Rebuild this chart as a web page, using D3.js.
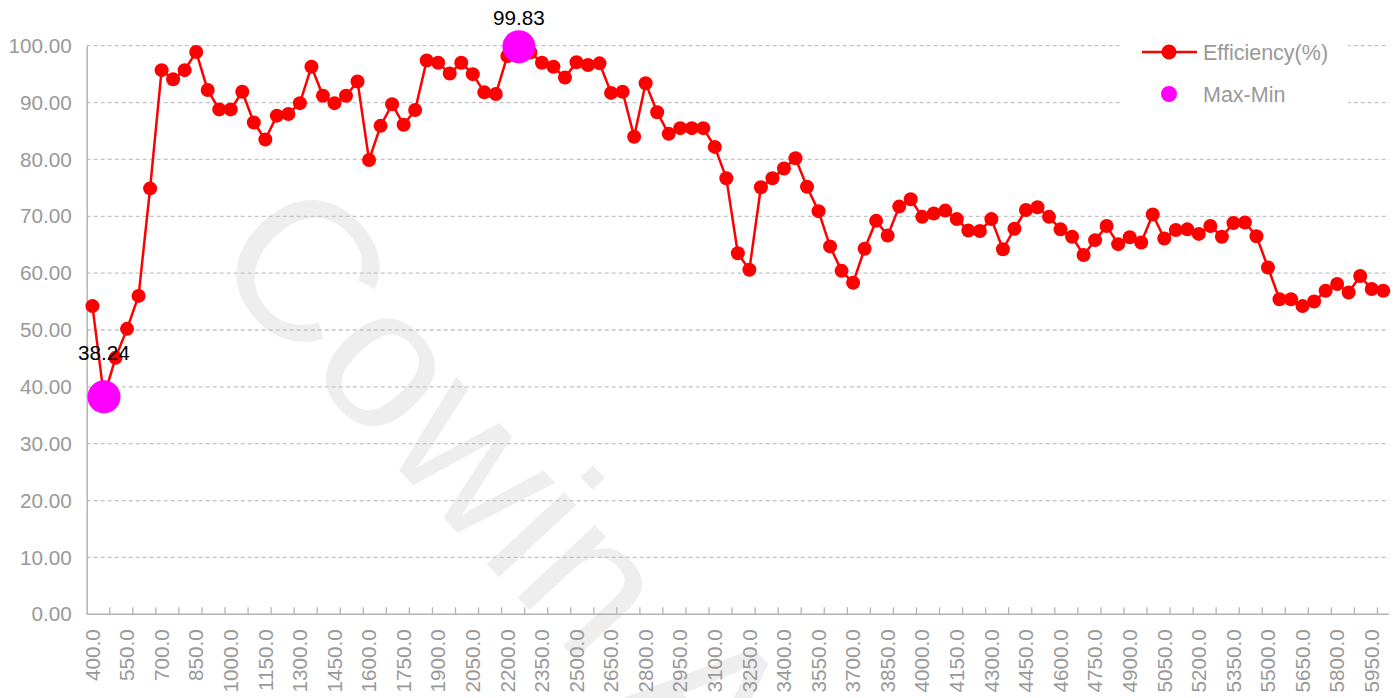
<!DOCTYPE html>
<html>
<head>
<meta charset="utf-8">
<script src="https://cdn.jsdelivr.net/npm/d3@7"></script>
<style>
  body { margin: 0; background: #fff; }
  text { font-family: Arial, 'Liberation Sans', sans-serif; }
</style>
</head>
<body>
<svg id="chart"></svg>
<script>
// x categories (rpm)
const categories = [
    400, 450, 500, 550, 600, 650, 700, 750, 800, 850,
    900, 950, 1000, 1050, 1100, 1150, 1200, 1250, 1300, 1350,
    1400, 1450, 1500, 1550, 1600, 1650, 1700, 1750, 1800, 1850,
    1900, 1950, 2000, 2050, 2100, 2150, 2200, 2250, 2300, 2350,
    2400, 2450, 2500, 2550, 2600, 2650, 2700, 2750, 2800, 2850,
    2900, 2950, 3000, 3050, 3100, 3150, 3200, 3250, 3300, 3350,
    3400, 3450, 3500, 3550, 3600, 3650, 3700, 3750, 3800, 3850,
    3900, 3950, 4000, 4050, 4100, 4150, 4200, 4250, 4300, 4350,
    4400, 4450, 4500, 4550, 4600, 4650, 4700, 4750, 4800, 4850,
    4900, 4950, 5000, 5050, 5100, 5150, 5200, 5250, 5300, 5350,
    5400, 5450, 5500, 5550, 5600, 5650, 5700, 5750, 5800, 5850,
    5900, 5950, 6000
];

// Efficiency(%) per category
const efficiency = [
    54.2, 38.24, 45.1, 50.2, 56.0, 74.9, 95.7, 94.1, 95.7, 98.9,
    92.2, 88.8, 88.8, 91.9, 86.5, 83.5, 87.7, 88.0, 89.9, 96.3,
    91.2, 89.9, 91.2, 93.7, 79.9, 85.9, 89.7, 86.1, 88.7, 97.4,
    97.0, 95.1, 97.0, 95.0, 91.8, 91.5, 98.2, 99.83, 98.8, 97.0,
    96.3, 94.4, 97.1, 96.6, 96.9, 91.7, 91.9, 84.0, 93.4, 88.3,
    84.5, 85.5, 85.5, 85.5, 82.2, 76.7, 63.5, 60.6, 75.1, 76.7,
    78.4, 80.2, 75.2, 70.9, 64.7, 60.4, 58.3, 64.3, 69.2, 66.6,
    71.7, 73.0, 69.9, 70.5, 71.0, 69.5, 67.5, 67.4, 69.5, 64.2,
    67.8, 71.1, 71.6, 69.9, 67.7, 66.4, 63.2, 65.8, 68.3, 65.1,
    66.3, 65.4, 70.3, 66.1, 67.6, 67.7, 66.9, 68.3, 66.4, 68.8,
    68.9, 66.5, 61.0, 55.4, 55.4, 54.2, 55.0, 56.9, 58.1, 56.6,
    59.5, 57.2, 56.9
];

const yTicks = [0, 10, 20, 30, 40, 50, 60, 70, 80, 90, 100];
const seriesNames = ['Efficiency(%)', 'Max-Min'];
const watermark = 'Cowin Auto';

const width = 1399, height = 698;
const margin = { top: 45.7, right: 10, bottom: 83.7, left: 86.7 };
const lineColor = '#ff0000', markColor = '#ff00ff', axisColor = '#b4b4b4', labelColor = '#999999';
const fontSize = 20.7;

const data = categories.map((c, i) => ({ cat: c, val: efficiency[i] }));

const svg = d3.select('#chart')
    .attr('width', width)
    .attr('height', height);

const x = d3.scaleBand()
    .domain(categories)
    .range([margin.left, width - margin.right])
    .padding(0);

const y = d3.scaleLinear()
    .domain([0, 100])
    .range([height - margin.bottom, margin.top]);

// watermark behind everything
svg.append('text')
    .attr('transform', 'translate(205,262) rotate(47)')
    .attr('font-size', 200)
    .attr('fill', '#eeeeee')
    .text(watermark);

// horizontal dashed grid
svg.append('g')
    .selectAll('line')
    .data(yTicks.filter(d => d > 0))
    .join('line')
    .attr('x1', x.range()[0])
    .attr('x2', x.range()[1])
    .attr('y1', d => y(d))
    .attr('y2', d => y(d))
    .attr('stroke', '#c3c3c3')
    .attr('stroke-width', 1.3)
    .attr('stroke-dasharray', '4,3');

// y axis
const yAxis = d3.axisLeft(y)
    .tickValues(yTicks)
    .tickFormat(d3.format('.2f'))
    .tickSize(0)
    .tickPadding(15);

const yAxisG = svg.append('g')
    .attr('transform', `translate(${margin.left},0)`)
    .call(yAxis);
yAxisG.select('.domain').attr('stroke', axisColor).attr('stroke-width', 1.5);
yAxisG.selectAll('text')
    .attr('font-size', fontSize)
    .attr('fill', labelColor)
    .attr('font-family', 'Arial, Liberation Sans, sans-serif');

// x axis line + inner ticks every two categories
const xAxisG = svg.append('g');
xAxisG.append('line')
    .attr('x1', x.range()[0])
    .attr('x2', x.range()[1])
    .attr('y1', y(0))
    .attr('y2', y(0))
    .attr('stroke', axisColor)
    .attr('stroke-width', 1.5);

xAxisG.selectAll('.tick-mark')
    .data(categories.filter((d, i) => i > 0 && i % 2 === 0))
    .join('line')
    .attr('class', 'tick-mark')
    .attr('x1', d => x(d))
    .attr('x2', d => x(d))
    .attr('y1', y(0))
    .attr('y2', y(0) - 7)
    .attr('stroke', axisColor)
    .attr('stroke-width', 1.3);

xAxisG.selectAll('.tick-label')
    .data(categories.filter((d, i) => i % 3 === 0))
    .join('text')
    .attr('class', 'tick-label')
    .attr('transform', d => `translate(${x(d) + x.bandwidth() / 2},${y(0) + 15}) rotate(-90)`)
    .attr('text-anchor', 'end')
    .attr('dy', '0.35em')
    .attr('font-size', fontSize)
    .attr('fill', labelColor)
    .text(d => d3.format('.1f')(d));

// series line
const cx = d => x(d.cat) + x.bandwidth() / 2;

const line = d3.line()
    .x(cx)
    .y(d => y(d.val));

svg.append('path')
    .datum(data)
    .attr('fill', 'none')
    .attr('stroke', lineColor)
    .attr('stroke-width', 2.5)
    .attr('stroke-linejoin', 'round')
    .attr('d', line);

svg.append('g')
    .selectAll('circle')
    .data(data)
    .join('circle')
    .attr('cx', cx)
    .attr('cy', d => y(d.val))
    .attr('r', 7)
    .attr('fill', lineColor);

// max / min markers
const extremes = [data[d3.maxIndex(efficiency)], data[d3.minIndex(efficiency)]];
const maxVal = d3.max(efficiency);

svg.append('g')
    .selectAll('text')
    .data(extremes)
    .join('text')
    .attr('x', cx)
    .attr('y', d => y(d.val) - (d.val === maxVal ? 22 : 37))
    .attr('text-anchor', 'middle')
    .attr('font-size', fontSize)
    .attr('fill', '#000')
    .text(d => d3.format('.2f')(d.val));

svg.append('g')
    .selectAll('circle')
    .data(extremes)
    .join('circle')
    .attr('cx', cx)
    .attr('cy', d => y(d.val))
    .attr('r', 16.5)
    .attr('fill', markColor);

// legend
const legend = svg.append('g').attr('transform', 'translate(1122,28)');
legend.append('rect')
    .attr('width', 226)
    .attr('height', 92)
    .attr('fill', '#fff');

const item1 = legend.append('g').attr('transform', 'translate(0,24)');
item1.append('line')
    .attr('x1', 20).attr('x2', 75)
    .attr('stroke', lineColor)
    .attr('stroke-width', 2.5);
item1.append('circle')
    .attr('cx', 47).attr('r', 7.5)
    .attr('fill', lineColor);
item1.append('text')
    .attr('x', 81).attr('dy', '0.35em')
    .attr('font-size', 21.5)
    .attr('fill', labelColor)
    .text(seriesNames[0]);

const item2 = legend.append('g').attr('transform', 'translate(0,66)');
item2.append('circle')
    .attr('cx', 47).attr('r', 8)
    .attr('fill', markColor);
item2.append('text')
    .attr('x', 81).attr('dy', '0.35em')
    .attr('font-size', 21.5)
    .attr('fill', labelColor)
    .text(seriesNames[1]);
</script>
</body>
</html>
